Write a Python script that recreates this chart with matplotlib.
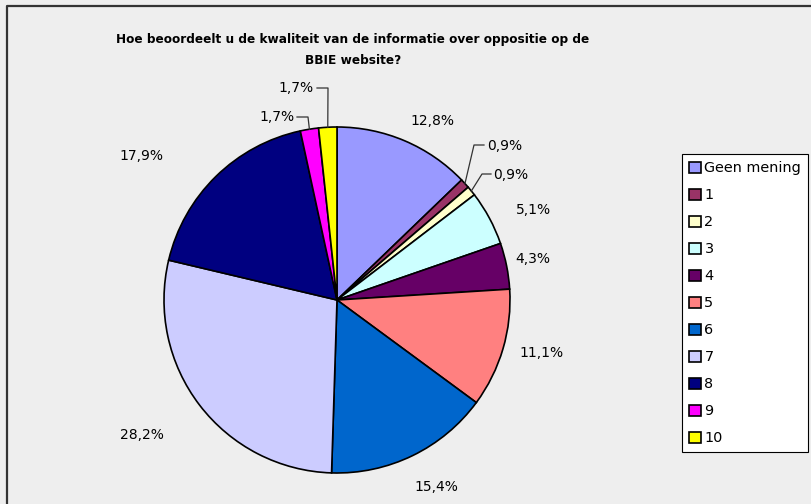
import numpy as np
import matplotlib
matplotlib.use("Agg")
import matplotlib.pyplot as plt

# Gegevens (percentages)
categorieen = ['Geen mening', '1', '2', '3', '4', '5', '6', '7', '8', '9', '10']
percentages = [12.8, 0.9, 0.9, 5.1, 4.3, 11.1, 15.4, 28.2, 17.9, 1.7, 1.7]
labels = ['12,8%', '0,9%', '0,9%', '5,1%', '4,3%', '11,1%', '15,4%', '28,2%', '17,9%', '1,7%', '1,7%']
kleuren = ['#9999FF', '#993366', '#FFFFCC', '#CCFFFF', '#660066', '#FF8080',
           '#0066CC', '#CCCCFF', '#000080', '#FF00FF', '#FFFF00']
titel = 'Hoe beoordeelt u de kwaliteit van de informatie over oppositie op de\nBBIE website?'

W, H = 812, 504
bg = '#EEEEEE'
plt.rcParams['font.family'] = ['DejaVu Sans']

fig = plt.figure(figsize=(W / 100, H / 100), dpi=100, facecolor=bg)
ax = fig.add_axes([0, 0, 1, 1])

cx, cy, R = 337, H - 300, 173
wedges, _ = ax.pie(percentages, colors=kleuren, startangle=90, counterclock=False,
                   center=(cx, cy), radius=R,
                   wedgeprops=dict(edgecolor='black', linewidth=1.2))
ax.set_xlim(0, W)
ax.set_ylim(0, H)
ax.set_aspect('equal')
ax.axis('off')

# rand van het grafiekgebied (alleen links en boven zichtbaar)
ax.plot([7, 7, W], [0, H - 6, H - 6], color='#333333', lw=1.6)

# label-offsets in pixels vanaf de rand (x, y omhoog); None = met verbindingslijn
offsets = [(28, 20), None, None, (44, 8), (26, 7), (39, -4), (24, -31), (-58, -30),
           (-74, 21), None, None]
# verbindingslijnen: (knikpunt, eindpunt, tekstpositie, uitlijning)
leaders = {
    1: ((474, 145), (484, 145), (487, 146), 'left'),
    2: ((482, 174), (491, 174), (493, 175), 'left'),
    9: ((308, 117), (297, 117), (295, 117), 'right'),
    10: ((328, 88), (317, 88), (314, 88), 'right'),
}

for i, w in enumerate(wedges):
    mid = np.deg2rad((w.theta1 + w.theta2) / 2)
    ex, ey = cx + R * np.cos(mid), cy + R * np.sin(mid)
    if offsets[i] is not None:
        ax.annotate(labels[i], xy=(ex, ey), xytext=offsets[i], textcoords='offset pixels',
                    ha='center', va='center', fontsize=10)
    else:
        (bx, by), (tx, ty), (lx, ly), ha = leaders[i]
        ax.plot([ex, bx, tx], [ey, H - by, H - ty], color='#333333', lw=0.9)
        ax.text(lx, H - ly, labels[i], ha=ha, va='center', fontsize=10)

ax.text(353, H - 50, titel, ha='center', va='center', fontsize=8.7,
        fontweight='bold', linespacing=1.85)

leg = ax.legend(wedges, categorieen, loc='upper left',
                bbox_to_anchor=(682 / W, 1 - 154 / H), frameon=True, fancybox=False,
                edgecolor='black', facecolor='white', framealpha=1, fontsize=10.4,
                handlelength=0.8, handleheight=0.8, handletextpad=0.25,
                labelspacing=0.9, borderpad=0.5, borderaxespad=0)
leg.get_frame().set_linewidth(0.8)

fig.savefig('out.png', dpi=100, facecolor=bg)
